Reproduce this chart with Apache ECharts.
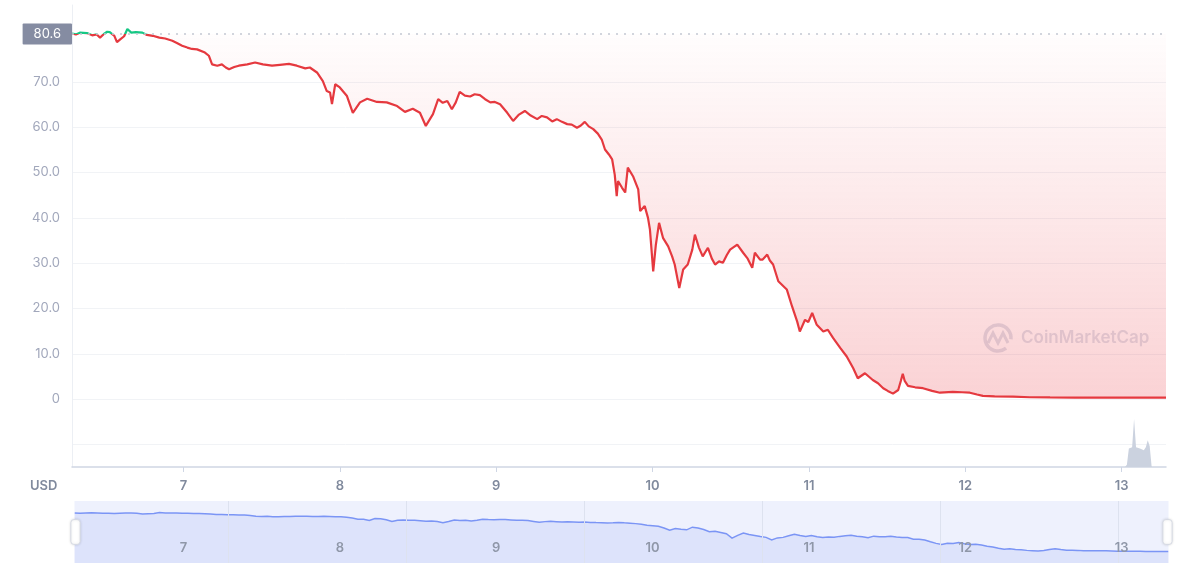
<!DOCTYPE html>
<html><head><meta charset="utf-8">
<script src="https://cdn.jsdelivr.net/npm/echarts@6/dist/echarts.min.js"></script>
<style>html,body{margin:0;padding:0;background:#fff;}#c{width:1184px;height:574px;}</style>
</head><body><div id="c"></div>
<script>
// [hours since 6 May 00:00, price USD]
const pricePoints = [
[6.9,80.7],[7.5,80.5],[8.1,80.9],[8.4,81.2],[9.2,80.8],[10.0,80.3],[10.7,80.5],[11.2,79.8],[11.8,80.6],[12.3,81.1],
[12.7,81.0],[13.4,80.2],[13.8,78.8],[14.3,79.4],[14.9,80.1],[15.4,81.7],[16.0,80.9],[16.7,81.0],[17.7,80.9],[18.4,80.4],
[19.3,80.2],[20.3,79.8],[21.2,79.6],[22.3,79.1],[23.0,78.6],[23.8,78.0],[24.6,77.6],[25.3,77.3],[26.1,77.2],[26.4,76.9],
[27.3,76.5],[27.9,75.8],[28.4,73.9],[29.2,73.6],[29.9,73.9],[30.5,73.2],[31.0,72.8],[31.8,73.3],[32.5,73.6],[33.8,73.9],
[35.0,74.3],[36.2,73.9],[37.6,73.6],[38.8,73.8],[40.2,74.0],[41.4,73.6],[42.7,73.0],[43.4,73.2],[44.5,72.1],[45.4,70.2],
[46.0,68.0],[46.5,67.7],[46.8,65.1],[47.3,69.5],[48.0,68.8],[49.1,66.9],[50.0,63.2],[51.1,65.5],[52.2,66.3],[53.7,65.6],
[55.2,65.5],[56.8,64.7],[58.0,63.4],[59.2,64.1],[60.3,63.2],[61.2,60.3],[62.3,62.9],[63.1,66.2],[63.8,65.4],[64.5,65.8],
[65.2,64.0],[65.8,65.5],[66.4,67.8],[67.2,67.0],[68.0,66.8],[68.7,67.3],[69.5,67.1],[70.3,66.2],[71.1,65.5],[71.8,65.6],
[72.6,65.1],[73.7,63.2],[74.6,61.4],[75.5,62.8],[76.4,63.6],[77.3,62.6],[78.3,61.8],[79.0,62.5],[79.8,62.2],[80.6,61.3],
[81.3,61.8],[82.1,61.2],[82.9,60.7],[83.6,60.6],[84.4,59.9],[85.0,60.4],[85.6,61.2],[86.2,60.2],[86.9,59.6],[87.6,58.6],
[88.2,57.3],[88.7,55.1],[89.3,54.0],[89.8,52.9],[90.2,49.5],[90.5,44.8],[90.7,48.1],[91.3,46.7],[91.8,45.6],[92.2,51.1],
[93.0,49.2],[93.8,46.3],[94.1,41.5],[94.8,42.6],[95.3,40.0],[95.6,37.4],[96.1,28.2],[96.5,34.0],[97.0,38.9],[97.6,35.6],
[98.4,33.7],[99.0,31.5],[99.4,29.7],[100.1,24.5],[100.7,28.6],[101.4,29.7],[102.1,33.0],[102.5,36.3],[103.1,33.5],[103.7,31.5],
[104.5,33.4],[105.1,31.0],[105.6,29.7],[106.2,30.4],[106.8,30.1],[107.4,31.8],[107.9,33.0],[109.0,34.1],[109.9,32.3],[110.6,31.0],
[111.3,29.0],[111.7,32.3],[112.5,30.8],[112.9,30.8],[113.6,31.9],[114.0,30.6],[114.5,29.7],[114.8,29.3],[115.3,26.0],[115.6,25.6],
[116.6,24.2],[117.4,20.5],[118.2,17.1],[118.6,14.9],[119.4,17.5],[119.9,17.0],[120.5,19.0],[121.2,16.4],[122.2,14.9],[122.9,15.3],
[123.7,13.5],[124.8,11.3],[125.8,9.4],[126.8,6.8],[127.5,4.6],[128.6,5.7],[129.8,4.2],[130.6,3.5],[131.4,2.4],[132.1,1.8],
[132.9,1.2],[133.7,2.0],[134.1,4.0],[134.4,5.6],[134.7,4.0],[135.2,2.9],[136.3,2.6],[137.5,2.4],[138.9,1.8],[140.1,1.4],
[142.1,1.6],[143.5,1.5],[144.7,1.4],[145.8,1.0],[146.7,0.7],[148.5,0.6],[151.3,0.55],[153.9,0.4],[157.0,0.35],[160.8,0.3],
[164.7,0.3],[168.5,0.3],[172.3,0.3],[174.8,0.3]
];
// [hours since 6 May 00:00, volume (relative)]
const volumePoints = [
[6.9,0],[168.5,0],[168.8,0.5],[169.1,4.0],[169.6,4.3],[169.9,10.4],[170.2,4.3],[170.8,4.0],[171.4,3.6],[171.7,4.3],[172.0,5.8],[172.3,4.5],[172.6,0],[174.8,0]
];
const openPrice = 80.6;
const dayLabels = [7, 8, 9, 10, 11, 12, 13];
const yLabelValues = [0, 10, 20, 30, 40, 50, 60, 70];
const yGridValues = [-10, 0, 10, 20, 30, 40, 50, 60, 70];
const navGridValues = [1, 2, 3, 4, 5, 6];

const xMin = 6.9, xMax = 174.8;
const yMin = -15, yMax = 87;
const dayToHour = d => (d - 6) * 24;
const dayTickHours = dayLabels.map(dayToHour);

const chart = echarts.init(document.getElementById('c'));
const font = 'Inter, "Noto Sans", sans-serif';
chart.setOption({
  animation: false,
  textStyle: { fontFamily: font },
  grid: [
    { left: 72, right: 18, top: 5, height: 462 },
    { left: 72, right: 18, top: 501, height: 62 }
  ],
  xAxis: [
    {
      type: 'value', gridIndex: 0, min: xMin, max: xMax,
      axisLine: { onZero: false, lineStyle: { color: '#cfd6e4', width: 1.5 } },
      axisTick: { show: true, length: 5, lineStyle: { color: '#cfd6e4' }, customValues: dayTickHours },
      axisLabel: { customValues: dayTickHours, formatter: v => String(Math.round(6 + v / 24)), color: '#808a9d', fontSize: 13, fontWeight: 600, margin: 13, fontFamily: font },
      splitLine: { show: false }
    },
    {
      type: 'value', gridIndex: 1, min: xMin, max: xMax, z: 10,
      axisLine: { show: false, onZero: false }, axisTick: { show: false },
      axisLabel: { inside: true, customValues: dayTickHours, formatter: v => String(Math.round(6 + v / 24)), color: '#8f97a8', fontSize: 13, fontWeight: 600, margin: 8, fontFamily: font },
      splitLine: { show: false }
    },
    {
      type: 'value', gridIndex: 1, min: 0.1236, max: 6.2697, z: 10,
      axisLine: { show: false, onZero: false }, axisLabel: { show: false },
      axisTick: { show: false, customValues: navGridValues },
      splitLine: { show: true, lineStyle: { color: '#dde2ef', width: 1 } }
    }
  ],
  yAxis: [
    {
      type: 'value', gridIndex: 0, min: yMin, max: yMax,
      axisLine: { show: true, onZero: false, lineStyle: { color: '#eceff4' } },
      axisTick: { show: false, customValues: yGridValues },
      axisLabel: { customValues: yLabelValues, formatter: v => v === 0 ? '0' : v.toFixed(1), color: '#a1a7bb', fontSize: 13, margin: 12, fontFamily: font },
      splitLine: { show: true, lineStyle: { color: '#f1f3f6', width: 1 } }
    },
    { type: 'value', gridIndex: 0, min: 0, max: 100, show: false, splitLine: { show: false } },
    { type: 'value', gridIndex: 1, min: 0, max: 1, show: false, splitLine: { show: false } }
  ],
  visualMap: {
    show: false, type: 'piecewise', seriesIndex: 0, dimension: 1,
    pieces: [
      { gte: yMin, lte: openPrice, color: '#e5393f' },
      { gt: openPrice, lte: yMax, color: '#16c784' }
    ]
  },
  dataZoom: [{
    type: 'slider', xAxisIndex: 0, filterMode: 'none', start: 0, end: 100,
    left: 72, right: 18, top: 501, height: 62,
    backgroundColor: '#eef1fd', borderColor: 'rgba(0,0,0,0)',
    fillerColor: 'rgba(0,0,0,0)',
    showDetail: false, brushSelect: false, moveHandleSize: 0,
    handleIcon: 'path://M3,0 h3 a3,3 0 0 1 3,3 v18 a3,3 0 0 1 -3,3 h-3 a3,3 0 0 1 -3,-3 v-18 a3,3 0 0 1 3,-3 z',
    handleSize: '40%',
    handleStyle: { color: '#ffffff', borderColor: '#d5d9e3', borderWidth: 1, shadowBlur: 3, shadowColor: 'rgba(0,0,0,0.12)' },
    dataBackground: { lineStyle: { color: '#7b95f5', width: 1.5, opacity: 1 }, areaStyle: { color: '#dde3fb', opacity: 1 } },
    selectedDataBackground: { lineStyle: { color: '#7b95f5', width: 1.5, opacity: 1 }, areaStyle: { color: '#dde3fb', opacity: 1 } }
  }],
  graphic: [
    { type: 'text', left: 30, top: 480, style: { text: 'USD', fill: '#808a9d', font: '600 13px ' + font } },
    { type: 'arc', shape: { cx: 998, cy: 338, r: 13, startAngle: 0.9, endAngle: 0.1 + Math.PI * 2 }, style: { stroke: 'rgba(215,220,230,0.85)', lineWidth: 3.5, fill: null } },
    { type: 'polyline', shape: { points: [[988, 343], [993, 333], [998, 343], [1003, 333], [1008, 343]] }, style: { stroke: 'rgba(215,220,230,0.85)', lineWidth: 3, fill: null } },
    { type: 'text', x: 1021, y: 329, style: { text: 'CoinMarketCap', fill: 'rgba(215,220,230,0.85)', font: '600 17px ' + font } }
  ],
  series: [
    {
      type: 'line', xAxisIndex: 0, yAxisIndex: 0, data: pricePoints, showSymbol: false, z: 3,
      lineStyle: { width: 2.2 },
      areaStyle: {
        origin: openPrice,
        color: new echarts.graphic.LinearGradient(0, 0, 0, 1, [
          { offset: 0, color: 'rgba(234,57,67,0.01)' },
          { offset: 1, color: 'rgba(234,57,67,0.32)' }
        ])
      },
      markLine: {
        silent: true, symbol: ['none', 'none'],
        lineStyle: { color: '#c3c8d2', type: [2, 6], width: 1.5 },
        label: { position: 'start', distance: 0, formatter: () => openPrice.toFixed(1), backgroundColor: '#858ca2', color: '#fff', padding: [4, 11], fontSize: 13, fontFamily: font, borderRadius: 1 },
        data: [{ yAxis: openPrice }]
      }
    },
    {
      type: 'line', xAxisIndex: 0, yAxisIndex: 1, data: volumePoints, showSymbol: false, z: 1,
      lineStyle: { width: 0 }, itemStyle: { color: '#cbd2df' },
      areaStyle: { color: '#cbd2df', opacity: 1 }
    }
  ]
});
</script></body></html>
